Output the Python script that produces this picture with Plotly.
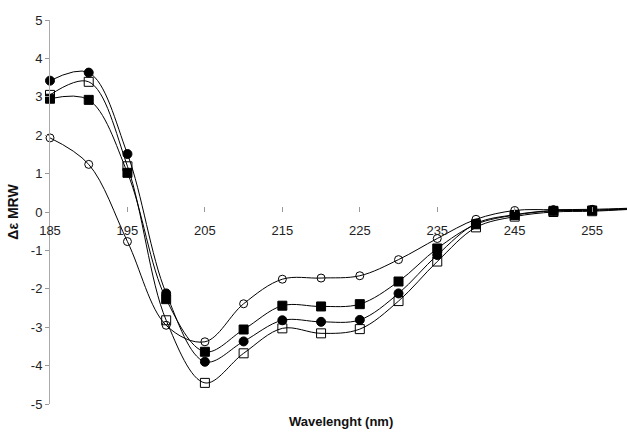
import plotly.graph_objects as go

wavelength = [185, 190, 195, 200, 205, 210, 215, 220, 225, 230, 235, 240, 245, 250, 255, 260]

open_circle = [1.93, 1.24, -0.77, -2.95, -3.38, -2.39, -1.75, -1.72, -1.66, -1.24, -0.69, -0.19, 0.04, 0.06, 0.07, 0.1]
filled_circle = [3.42, 3.63, 1.51, -2.12, -3.90, -3.37, -2.82, -2.86, -2.81, -2.12, -1.12, -0.30, -0.07, 0.04, 0.05, 0.09]
filled_square = [2.95, 2.92, 1.02, -2.27, -3.64, -3.06, -2.44, -2.46, -2.40, -1.81, -0.95, -0.32, -0.08, 0.03, 0.04, 0.08]
open_square = [3.05, 3.39, 1.19, -2.82, -4.45, -3.68, -3.03, -3.16, -3.05, -2.32, -1.29, -0.40, -0.12, 0.00, 0.02, 0.07]

x_ticks = [185, 195, 205, 215, 225, 235, 245, 255]
x_tick_labels = ["185", "195", "205", "215", "225", "235", "245", "255"]
y_ticks = [5, 4, 3, 2, 1, 0, -1, -2, -3, -4, -5]
y_tick_labels = ["5", "4", "3", "2", "1", "0", "-1", "-2", "-3", "-4", "-5"]

series = [
    ("open circle", open_circle, "circle-open", 8),
    ("filled square", filled_square, "square", 9),
    ("filled circle", filled_circle, "circle", 9),
    ("open square", open_square, "square-open", 9),
]

fig = go.Figure()
for name, vals, sym, sz in series:
    fig.add_trace(go.Scatter(
        x=wavelength, y=vals, name=name, mode="lines+markers",
        line=dict(color="black", width=1, shape="spline", smoothing=1.0),
        marker=dict(symbol=sym, size=sz, color="black",
                    line=dict(color="black", width=1)),
        cliponaxis=False,
    ))

font = "Liberation Sans, Arial, sans-serif"
fig.update_layout(
    width=627, height=436,
    margin=dict(l=50, r=0, t=20, b=32),
    paper_bgcolor="white", plot_bgcolor="white",
    showlegend=False,
    font=dict(family=font, size=13, color="#222"),
    xaxis=dict(
        range=[185, 259.5], anchor="free", position=0.5,
        tickvals=x_ticks, ticktext=x_tick_labels,
        ticks="inside", ticklen=5, tickcolor="#999", tickwidth=1,
        ticklabelstandoff=9,
        showline=False, showgrid=False, zeroline=False,
        tickfont=dict(family=font, size=13, color="#222"),
    ),
    yaxis=dict(
        range=[-5, 5], tickvals=y_ticks, ticktext=y_tick_labels,
        ticks="outside", ticklen=4, tickcolor="#999", tickwidth=1,
        showline=True, linecolor="#aaa", linewidth=1,
        showgrid=False, zeroline=False,
        tickfont=dict(family=font, size=13, color="#222"),
        title=dict(text="Δε MRW", font=dict(family=font, size=14, color="#111", weight="bold"), standoff=8),
        automargin=False,
    ),
)
fig.add_annotation(
    text="<b>Wavelenght (nm)</b>", xref="paper", yref="paper",
    x=0.505, y=0, yshift=-8, yanchor="top", showarrow=False,
    font=dict(family=font, size=13, color="#111"),
)
fig.write_html("out.html")
